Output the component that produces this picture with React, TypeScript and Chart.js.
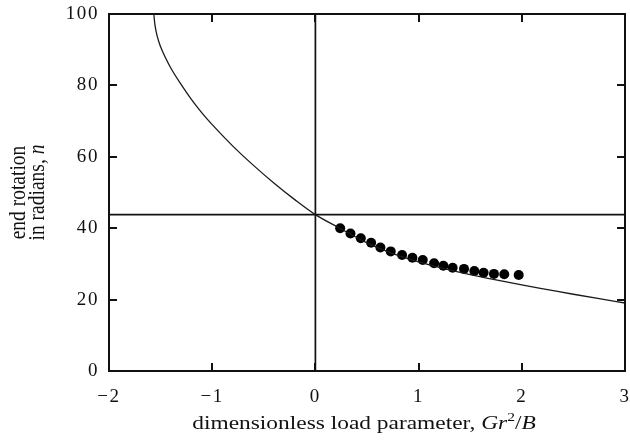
import React, { useEffect, useRef } from "react";
import { Chart, registerables } from "chart.js";

Chart.register(...registerables);

const FONT = "'Liberation Serif', 'Times New Roman', serif";
const INK = "#111111";

// Theory curve
const curveX = [-1.566, -1.555, -1.535, -1.5, -1.45, -1.4, -1.3, -1.2, -1.1, -1.0, -0.8, -0.6, -0.4, -0.2, 0, 0.236, 0.5, 0.75, 1.0, 1.25, 1.5, 1.75, 2.0, 2.25, 2.5, 2.75, 3.0];
const curveY = [100, 97.0, 94.0, 90.8, 87.6, 84.8, 80.2, 76.0, 72.3, 69.0, 63.0, 57.6, 52.6, 48.0, 43.8, 40.0, 35.9, 32.9, 30.6, 28.7, 27.0, 25.5, 24.1, 22.8, 21.5, 20.25, 19.05];

// Measured points
const dotX = [0.24, 0.34, 0.44, 0.54, 0.63, 0.73, 0.84, 0.94, 1.04, 1.15, 1.24, 1.33, 1.44, 1.54, 1.63, 1.73, 1.83, 1.97];
const dotY = [40.0, 38.5, 37.2, 35.9, 34.6, 33.5, 32.5, 31.7, 31.1, 30.2, 29.5, 28.9, 28.6, 28.0, 27.5, 27.2, 27.1, 26.9];

// Reference cross lines
const crossX = 0;
const crossY = 43.8;

// Axes
const xMin = -2, xMax = 3, xStep = 1;
const yMin = 0, yMax = 100, yStep = 20;

const xTitleParts = ["dimensionless load parameter, ", "Gr", "2", "/", "B"];
const yTitleLine1 = "end rotation";
const yTitleLine2 = ["in radians, ", "n"];

const STRETCH = 1.2;

const framePlugin = {
  id: "frameAndTitles",
  beforeDraw(chart: any) {
    (chart.ctx as any).letterSpacing = "1.6px";
  },
  afterDraw(chart: any) {
    const { ctx, chartArea: a, scales } = chart;
    const xs = scales.x;
    const ys = scales.y;
    ctx.save();
    (ctx as any).letterSpacing = "0px";
    ctx.strokeStyle = INK;
    ctx.lineWidth = 2;
    ctx.strokeRect(a.left, a.top, a.right - a.left, a.bottom - a.top);
    const tl = 8;
    ctx.beginPath();
    for (const t of xs.ticks) {
      const px = Math.round(xs.getPixelForValue(t.value));
      ctx.moveTo(px, a.bottom);
      ctx.lineTo(px, a.bottom - tl);
      ctx.moveTo(px, a.top);
      ctx.lineTo(px, a.top + tl);
    }
    for (const t of ys.ticks) {
      const py = Math.round(ys.getPixelForValue(t.value));
      ctx.moveTo(a.left, py);
      ctx.lineTo(a.left + tl, py);
      ctx.moveTo(a.right, py);
      ctx.lineTo(a.right - tl, py);
    }
    ctx.stroke();

    // x title
    const reg = `19.5px ${FONT}`;
    const ital = `italic 19.5px ${FONT}`;
    const sup = `13px ${FONT}`;
    const parts = [
      { t: xTitleParts[0], f: reg, dy: 0 },
      { t: xTitleParts[1], f: ital, dy: 0 },
      { t: xTitleParts[2], f: sup, dy: -8 },
      { t: xTitleParts[3], f: reg, dy: 0 },
      { t: xTitleParts[4], f: ital, dy: 0 },
    ];
    let W = 0;
    const ws: number[] = [];
    for (const p of parts) {
      ctx.font = p.f;
      const w = ctx.measureText(p.t).width;
      ws.push(w);
      W += w;
    }
    ctx.fillStyle = INK;
    ctx.textBaseline = "alphabetic";
    ctx.textAlign = "left";
    ctx.save();
    const cx = (a.left + a.right) / 2 - 3;
    ctx.translate(cx - (W * STRETCH) / 2, 429);
    ctx.scale(STRETCH, 1);
    let px = 0;
    parts.forEach((p, i) => {
      ctx.font = p.f;
      ctx.fillText(p.t, px, p.dy);
      px += ws[i];
    });
    ctx.restore();

    // y title
    ctx.save();
    ctx.translate(0, (a.top + a.bottom) / 2);
    ctx.scale(STRETCH, 1);
    ctx.rotate(-Math.PI / 2);
    ctx.font = reg;
    const w1 = ctx.measureText(yTitleLine1).width;
    ctx.fillText(yTitleLine1, -w1 / 2, 25 / STRETCH);
    ctx.font = reg;
    const w2a = ctx.measureText(yTitleLine2[0]).width;
    ctx.font = ital;
    const w2b = ctx.measureText(yTitleLine2[1]).width;
    const start = -(w2a + w2b) / 2;
    ctx.font = reg;
    ctx.fillText(yTitleLine2[0], start, 44 / STRETCH);
    ctx.font = ital;
    ctx.fillText(yTitleLine2[1], start + w2a, 44 / STRETCH);
    ctx.restore();

    ctx.restore();
  },
};

const fmt = (v: number) => (v < 0 ? "\u2212" + Math.abs(v) : String(v));

export default function App() {
  const ref = useRef<HTMLCanvasElement | null>(null);
  useEffect(() => {
    document.body.style.margin = "0";
    if (!ref.current) return;
    const chart = new Chart(ref.current, {
      type: "scatter",
      data: {
        datasets: [
          {
            label: "theory",
            data: curveX.map((x, i) => ({ x, y: curveY[i] })),
            showLine: true,
            pointRadius: 0,
            borderColor: "#1a1a1a",
            borderWidth: 1.3,
            cubicInterpolationMode: "monotone",
          } as any,
          {
            label: "h",
            data: [
              { x: xMin, y: crossY },
              { x: xMax, y: crossY },
            ],
            showLine: true,
            pointRadius: 0,
            borderColor: INK,
            borderWidth: 1.7,
          },
          {
            label: "v",
            data: [
              { x: crossX, y: yMin },
              { x: crossX, y: yMax },
            ],
            showLine: true,
            pointRadius: 0,
            borderColor: INK,
            borderWidth: 1.7,
          },
          {
            label: "measured",
            data: dotX.map((x, i) => ({ x, y: dotY[i] })),
            showLine: false,
            pointRadius: 5,
            pointBackgroundColor: "#000",
            pointBorderWidth: 0,
          },
        ],
      },
      options: {
        animation: false,
        responsive: true,
        maintainAspectRatio: false,
        layout: { padding: { top: 14, right: 3, left: 0, bottom: 0 } },
        plugins: { legend: { display: false }, tooltip: { enabled: false } },
        events: [],
        scales: {
          x: {
            type: "linear",
            min: xMin,
            max: xMax,
            grid: { display: false, drawTicks: false },
            border: { display: false },
            ticks: {
              stepSize: xStep,
              autoSkip: false,
              maxRotation: 0,
              padding: 15,
              color: INK,
              font: { family: FONT, size: 19 },
              callback: (v: any) => fmt(Number(v)),
            },
            afterFit: (s: any) => {
              s.height = 71;
              s.paddingLeft = 0;
              s.paddingRight = 0;
            },
          },
          y: {
            type: "linear",
            min: yMin,
            max: yMax,
            grid: { display: false, drawTicks: false },
            border: { display: false },
            ticks: {
              stepSize: yStep,
              autoSkip: false,
              padding: 10,
              color: INK,
              font: { family: FONT, size: 19 },
              callback: (v: any) => fmt(Number(v)),
            },
            afterFit: (s: any) => {
              s.width = 109;
              s.paddingTop = 0;
              s.paddingBottom = 0;
            },
          },
        },
      },
      plugins: [framePlugin],
    });
    return () => chart.destroy();
  }, []);
  return (
    <div style={{ width: 630, height: 442, position: "relative", background: "#fff" }}>
      <canvas ref={ref} />
    </div>
  );
}
